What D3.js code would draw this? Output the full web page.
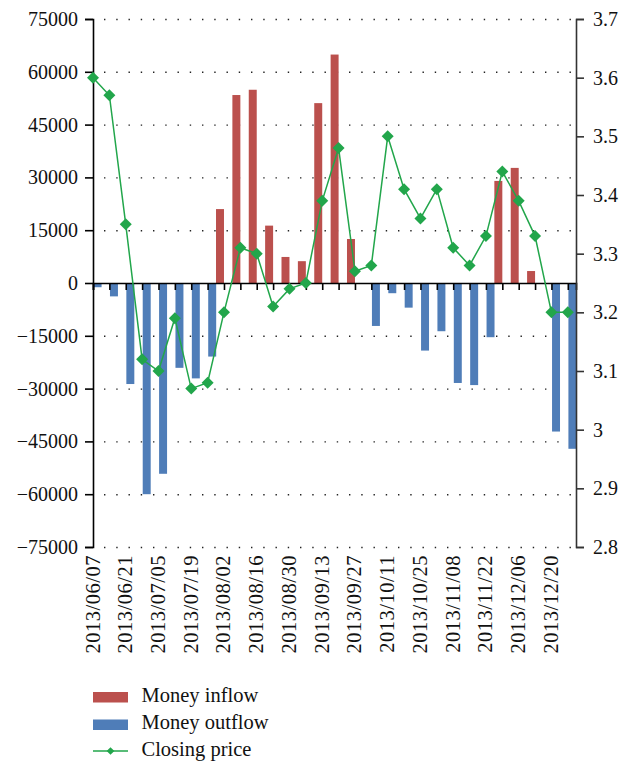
<!DOCTYPE html>
<html>
<head>
<meta charset="utf-8">
<script src="https://cdn.jsdelivr.net/npm/d3@7/dist/d3.min.js"></script>
<style>
  html, body { margin: 0; padding: 0; background: #fff; }
  svg { display: block; }
  text { font-family: "Liberation Serif", "DejaVu Serif", serif; fill: #111; }
</style>
</head>
<body>
<svg id="chart" width="632" height="761"></svg>
<script>
// ---- data ----
const dates = [
  "2013/06/07","2013/06/14","2013/06/21","2013/06/28","2013/07/05","2013/07/12",
  "2013/07/19","2013/07/26","2013/08/02","2013/08/09","2013/08/16","2013/08/23",
  "2013/08/30","2013/09/06","2013/09/13","2013/09/20","2013/09/27","2013/10/04",
  "2013/10/11","2013/10/18","2013/10/25","2013/11/01","2013/11/08","2013/11/15",
  "2013/11/22","2013/11/29","2013/12/06","2013/12/13","2013/12/20","2013/12/27"
];
const moneyInflow = [
  0, 0, 0, 0, 0, 0, 0, 0, 21000, 53400, 54900, 16300, 7400, 6200, 51100, 64900,
  12500, 0, 0, 0, 0, 0, 0, 0, 0, 29000, 32700, 3400, 0, 0
];
const moneyOutflow = [
  -1200, -3800, -28700, -60000, -54200, -24100, -27100, -20900, 0, 0, 0, 0, 0, 0, 0, 0,
  0, -12200, -2900, -7000, -19200, -13700, -28400, -29000, -15400, 0, 0, 0, -42200, -47100
];
const closingPrice = [
  3.60, 3.57, 3.35, 3.12, 3.10, 3.19, 3.07, 3.08, 3.20, 3.31, 3.30, 3.21, 3.24, 3.25,
  3.39, 3.48, 3.27, 3.28, 3.50, 3.41, 3.36, 3.41, 3.31, 3.28, 3.33, 3.44, 3.39, 3.33,
  3.20, 3.20
];
const leftTicks = [75000, 60000, 45000, 30000, 15000, 0, -15000, -30000, -45000, -60000, -75000];
const rightTicks = [3.7, 3.6, 3.5, 3.4, 3.3, 3.2, 3.1, 3.0, 2.9, 2.8];
const seriesNames = ["Money inflow", "Money outflow", "Closing price"];

// ---- layout ----
const L = 93, R = 576, T = 19, B = 547;
const cRed = "#bb504d", cBlue = "#4f7db8", cGreen = "#22a64b";
const svg = d3.select("#chart");

const x = d3.scaleLinear().domain([0, dates.length - 0.5]).range([L, R]);
const yL = d3.scaleLinear().domain([-75000, 75000]).range([B, T]);
const yR = d3.scaleLinear().domain([2.8, 3.7]).range([B, T]);
const barW = x(1) - x(0) - 8.4;

const fmtL = v => (v < 0 ? "\u2212" : "") + Math.abs(v);
const fmtR = v => (Math.round(v * 10) % 10 === 0 ? d3.format("d")(v) : d3.format(".1f")(v));

// dotted gridlines
svg.append("g").selectAll("line")
  .data(leftTicks.filter(d => d !== 0))
  .join("line")
  .attr("x1", L + 11).attr("x2", R)
  .attr("y1", d => yL(d) + 0.5).attr("y2", d => yL(d) + 0.5)
  .attr("stroke", "#222").attr("stroke-width", 1.4)
  .attr("stroke-dasharray", "1.4,10.85");

// bars
const idx = d3.range(dates.length);
svg.append("g").selectAll("rect")
  .data(idx.filter(i => moneyInflow[i] > 0))
  .join("rect")
  .attr("x", i => x(i) - barW).attr("width", barW)
  .attr("y", i => yL(moneyInflow[i]))
  .attr("height", i => yL(0) - yL(moneyInflow[i]))
  .attr("fill", cRed);
svg.append("g").selectAll("rect")
  .data(idx.filter(i => moneyOutflow[i] < 0))
  .join("rect")
  .attr("x", i => x(i) + 0.6).attr("width", barW)
  .attr("y", yL(0))
  .attr("height", i => yL(moneyOutflow[i]) - yL(0))
  .attr("fill", cBlue);

// zero line with category ticks
const zeroAxis = d3.axisBottom(x).tickValues(idx).tickSize(7).tickFormat("");
svg.append("g").attr("transform", `translate(0,${yL(0)})`).call(zeroAxis)
  .call(g => g.select(".domain").attr("stroke", "#000").attr("stroke-width", 1.6))
  .call(g => g.selectAll(".tick line").attr("stroke", "#000").attr("stroke-width", 1.6));

// left axis
const axL = d3.axisLeft(yL).tickValues(leftTicks).tickSize(8).tickPadding(7).tickFormat(fmtL);
svg.append("g").attr("transform", `translate(${L},0)`).call(axL)
  .call(g => g.select(".domain").attr("stroke", "#000").attr("stroke-width", 1.6))
  .call(g => g.selectAll(".tick line").attr("stroke", "#000").attr("stroke-width", 1.6))
  .call(g => g.selectAll("text").attr("font-size", 20).attr("font-family", "Liberation Serif").attr("fill", "#111"));

// right axis
const axR = d3.axisRight(yR).tickValues(rightTicks).tickSize(8).tickPadding(9).tickFormat(fmtR);
svg.append("g").attr("transform", `translate(${R},0)`).call(axR)
  .call(g => g.select(".domain").attr("stroke", "#333").attr("stroke-width", 1.6))
  .call(g => g.selectAll(".tick line").attr("stroke", "#333").attr("stroke-width", 1.6))
  .call(g => g.selectAll("text").attr("font-size", 20).attr("font-family", "Liberation Serif").attr("fill", "#111"));

// x labels (every other week)
svg.append("g").selectAll("text")
  .data(idx.filter(i => i % 2 === 0))
  .join("text")
  .attr("transform", i => `translate(${x(i) + 6.5},${B + 8}) rotate(-90)`)
  .attr("text-anchor", "end")
  .attr("font-size", 20.5)
  .attr("letter-spacing", 0.5)
  .text(i => dates[i]);

// closing price line
const line = d3.line().x((d, i) => x(i)).y(d => yR(d));
svg.append("path").datum(closingPrice)
  .attr("d", line).attr("fill", "none")
  .attr("stroke", cGreen).attr("stroke-width", 1.5);
const diamond = d3.symbol().type(d3.symbolDiamond2 || d3.symbolSquare).size(72);
svg.append("g").selectAll("path")
  .data(closingPrice)
  .join("path")
  .attr("transform", (d, i) => `translate(${x(i)},${yR(d)}) rotate(45)`)
  .attr("d", d3.symbol().type(d3.symbolSquare).size(72))
  .attr("fill", cGreen);

// legend
const lg = svg.append("g");
const lx = 93, ls = 35, tx = 141.5;
lg.append("rect").attr("x", lx).attr("y", 692).attr("width", ls).attr("height", 10.5).attr("fill", cRed);
lg.append("rect").attr("x", lx).attr("y", 719.5).attr("width", ls).attr("height", 10.5).attr("fill", cBlue);
lg.append("line").attr("x1", lx).attr("x2", lx + ls).attr("y1", 751).attr("y2", 751)
  .attr("stroke", cGreen).attr("stroke-width", 1.5);
lg.append("path").attr("transform", `translate(${lx + ls / 2},751) rotate(45)`)
  .attr("d", d3.symbol().type(d3.symbolSquare).size(30)).attr("fill", cGreen);
lg.selectAll("text").data(seriesNames).join("text")
  .attr("x", tx).attr("y", (d, i) => 702 + i * 27)
  .attr("font-size", 20.5)
  .text(d => d);
</script>
</body>
</html>
